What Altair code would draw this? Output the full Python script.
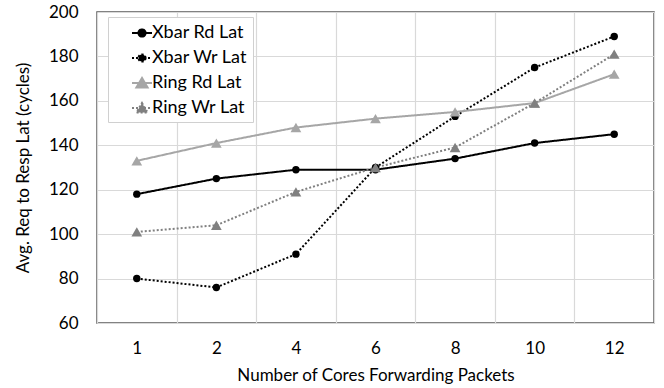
import altair as alt
import pandas as pd

# Cores forwarding packets (categorical x axis)
cores = ["1", "2", "4", "6", "8", "10", "12"]

# Average request-to-response latency, in cycles
xbar_rd = [118, 125, 129, 129, 134, 141, 145]
xbar_wr = [80, 76, 91, 130, 153, 175, 189]
ring_rd = [133, 141, 148, 152, 155, 159, 172]
ring_wr = [101, 104, 119, 130, 139, 159, 181]

series_names = ["Xbar Rd Lat", "Xbar Wr Lat", "Ring Rd Lat", "Ring Wr Lat"]
series_values = [xbar_rd, xbar_wr, ring_rd, ring_wr]

rows = []
for name, vals in zip(series_names, series_values):
    for c, v in zip(cores, vals):
        rows.append({"cores": c, "lat": v, "series": name})
df = pd.DataFrame(rows)

colors = ["#000000", "#000000", "#a6a6a6", "#808080"]
dashes = [[1, 0], [2, 2], [1, 0], [2, 2]]

# legend glyphs: a short line with the marker in its middle, drawn to the
# right of the symbol's centre so the entry sits further from the box edge
circle_glyph = "M0.8,0L2.8,0M2.16,0A0.36,0.36,0,1,1,1.44,0A0.36,0.36,0,1,1,2.16,0Z"
triangle_glyph = "M0.8,0L2.8,0M1.8,-0.5L2.36,0.45L1.24,0.45Z"
glyphs = [circle_glyph, circle_glyph, triangle_glyph, triangle_glyph]

FONT = "Lato"

x_enc = alt.X(
    "cores:O",
    sort=cores,
    title="Number of Cores Forwarding Packets",
    axis=alt.Axis(
        tickBand="extent",
        ticks=False,
        domain=False,
        grid=True,
        labelAngle=0,
        labelPadding=17,
        titlePadding=11,
    ),
)
y_enc = alt.Y(
    "lat:Q",
    scale=alt.Scale(domain=[60, 200], nice=False, zero=False),
    title="Avg. Req to Resp Lat (cycles)",
    axis=alt.Axis(values=list(range(60, 201, 20)), ticks=False, domain=False,
                  labelPadding=19, titlePadding=16),
)
color_enc = alt.Color("series:N", scale=alt.Scale(domain=series_names, range=colors), legend=None)
dash_scale = alt.Scale(domain=series_names, range=dashes)

base = alt.Chart(df)

lines = base.mark_line(strokeWidth=2).encode(
    x=x_enc, y=y_enc, color=color_enc,
    strokeDash=alt.StrokeDash("series:N", scale=dash_scale, legend=None),
)

circles = base.transform_filter(
    alt.FieldOneOfPredicate(field="series", oneOf=series_names[:2])
).mark_point(shape="circle", filled=True, size=55, opacity=1).encode(
    x=x_enc, y=y_enc, color=color_enc
)

triangles = base.transform_filter(
    alt.FieldOneOfPredicate(field="series", oneOf=series_names[2:])
).mark_point(shape="triangle-up", filled=True, size=115, opacity=1).encode(
    x=x_enc, y=y_enc, color=color_enc
)

legend = alt.Legend(
    title=None,
    orient="none",
    legendX=11,
    legendY=5,
    symbolSize=400,
    symbolStrokeWidth=2,
    symbolOpacity=1,
    labelFont=FONT,
    labelFontSize=18,
    labelColor="#000000",
    labelOffset=17,
    labelExpr="datum.label + '\u2003\u2003'",
    rowPadding=5,
    padding=5,
    fillColor="#ffffff",
    strokeColor="#d0d0d0",
)

key = base.mark_point(filled=True, opacity=0).encode(
    x=x_enc, y=y_enc,
    fill=alt.Fill("series:N", scale=alt.Scale(domain=series_names, range=colors), legend=legend),
    stroke=alt.Stroke("series:N", scale=alt.Scale(domain=series_names, range=colors), legend=legend),
    shape=alt.Shape("series:N", scale=alt.Scale(domain=series_names, range=glyphs), legend=legend),
    strokeDash=alt.StrokeDash("series:N", scale=dash_scale, legend=legend),
)

chart = alt.layer(key, lines, circles, triangles).properties(
    width=557,
    height=311,
    autosize=alt.AutoSizeParams(type="none"),
    padding={"left": 97, "top": 12, "right": 10, "bottom": 65},
).configure_view(
    stroke="#595959", strokeWidth=1.5
).configure_axis(
    labelFont=FONT, labelFontSize=17, labelColor="#000000",
    titleFont=FONT, titleFontSize=17, titleFontWeight="normal", titleColor="#000000",
    gridColor="#d9d9d9", gridWidth=1.2,
)

chart.save("out.html", embed_options={"renderer": "svg", "actions": False})
